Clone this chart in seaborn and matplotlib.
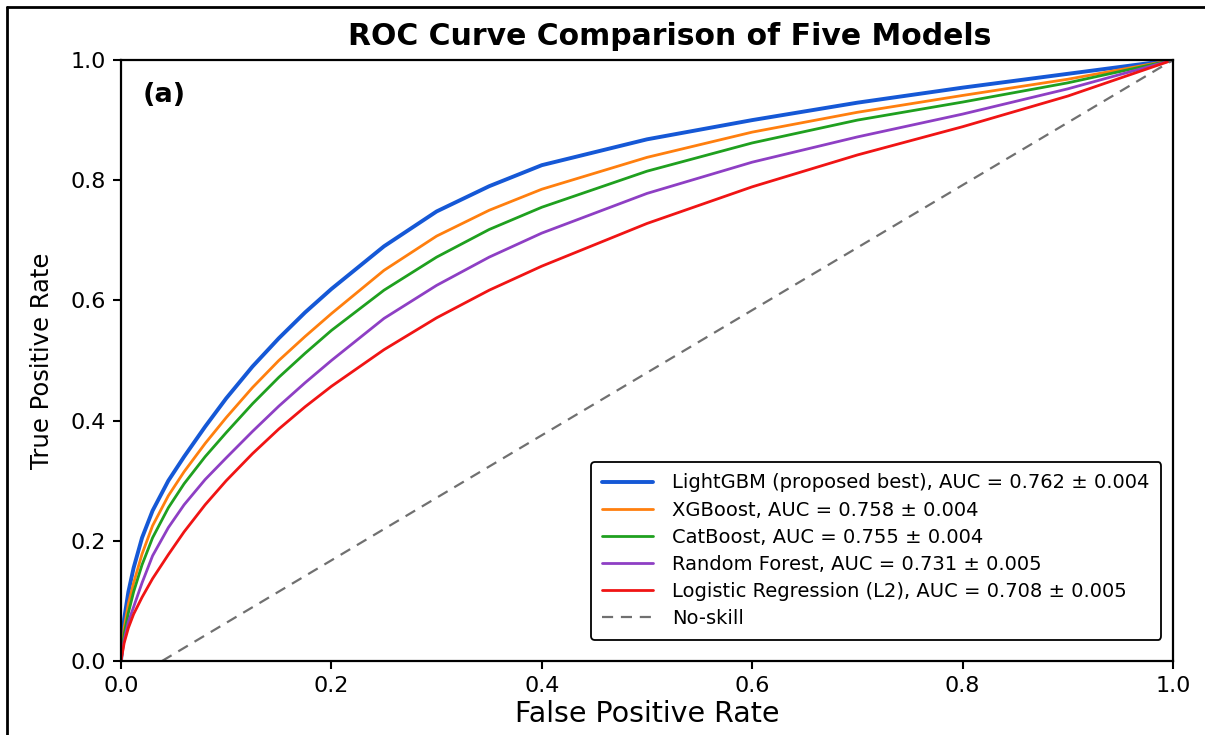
import numpy as np
import pandas as pd
import matplotlib
matplotlib.use("Agg")
import matplotlib.pyplot as plt
from matplotlib.lines import Line2D
import seaborn as sns

# ROC points
fpr = [0.0, 0.003, 0.007, 0.012, 0.02, 0.03, 0.045, 0.06, 0.08, 0.1, 0.125, 0.15,
       0.175, 0.2, 0.25, 0.3, 0.35, 0.4, 0.5, 0.6, 0.7, 0.8, 0.9, 1.0]
tpr_lgbm = [0.0, 0.07, 0.115, 0.155, 0.205, 0.25, 0.30, 0.34, 0.39, 0.437, 0.49, 0.537,
            0.58, 0.619, 0.69, 0.748, 0.79, 0.825, 0.868, 0.9, 0.929, 0.954, 0.977, 1.0]
tpr_xgb = [0.0, 0.055, 0.095, 0.13, 0.178, 0.225, 0.275, 0.315, 0.362, 0.405, 0.455, 0.5,
           0.54, 0.578, 0.65, 0.707, 0.75, 0.785, 0.838, 0.88, 0.913, 0.941, 0.968, 1.0]
tpr_cat = [0.0, 0.045, 0.08, 0.115, 0.16, 0.205, 0.255, 0.295, 0.34, 0.38, 0.428, 0.472,
           0.512, 0.55, 0.617, 0.672, 0.718, 0.755, 0.815, 0.862, 0.9, 0.93, 0.962, 1.0]
tpr_rf = [0.0, 0.035, 0.065, 0.09, 0.13, 0.175, 0.222, 0.26, 0.302, 0.338, 0.382, 0.424,
          0.463, 0.5, 0.57, 0.625, 0.672, 0.712, 0.778, 0.83, 0.872, 0.91, 0.952, 1.0]
tpr_lr = [0.0, 0.03, 0.055, 0.078, 0.106, 0.137, 0.177, 0.215, 0.26, 0.3, 0.345, 0.386,
          0.423, 0.457, 0.518, 0.571, 0.617, 0.657, 0.728, 0.789, 0.842, 0.889, 0.94, 1.0]
noskill_x = [0.039, 1.0]
noskill_y = [0.0, 1.0]

labels = ["LightGBM (proposed best), AUC = 0.762 \u00b1 0.004",
          "XGBoost, AUC = 0.758 \u00b1 0.004",
          "CatBoost, AUC = 0.755 \u00b1 0.004",
          "Random Forest, AUC = 0.731 \u00b1 0.005",
          "Logistic Regression (L2), AUC = 0.708 \u00b1 0.005"]
colors = ["#1558d6", "#ff7f0e", "#1fa01f", "#8e3fc4", "#f01414"]
widths = [2.8, 2.0, 2.0, 2.0, 2.0]
curves = [tpr_lgbm, tpr_xgb, tpr_cat, tpr_rf, tpr_lr]

sns.set_style("ticks")
plt.rcParams['font.family'] = ['DejaVu Sans']
plt.rcParams['text.color'] = 'black'
plt.rcParams['axes.labelcolor'] = 'black'
plt.rcParams['xtick.color'] = 'black'
plt.rcParams['ytick.color'] = 'black'

fig = plt.figure(figsize=(12.05, 7.35), dpi=100)
ax = fig.add_axes([121 / 1205, 1 - 661 / 735, 1052 / 1205, 601 / 735])

for tpr, lab, col, lw in zip(curves, labels, colors, widths):
    sns.lineplot(x=fpr, y=tpr, color=col, linewidth=lw, label=lab, ax=ax)

sns.lineplot(x=noskill_x, y=noskill_y, color="#707070", linewidth=1.6,
             linestyle=(0, (5, 3.5)), label="No-skill", ax=ax)

ax.set_xlim(0, 1)
ax.set_ylim(0, 1)
ticks = [0.0, 0.2, 0.4, 0.6, 0.8, 1.0]
ax.set_xticks(ticks)
ax.set_yticks(ticks)
ax.set_xticklabels([f"{t:.1f}" for t in ticks])
ax.set_yticklabels([f"{t:.1f}" for t in ticks])
ax.tick_params(labelsize=16, length=6, width=1.5, pad=5)
for sp in ax.spines.values():
    sp.set_linewidth(1.6)
    sp.set_color("black")
    sp.set_visible(True)

ax.set_title("ROC Curve Comparison of Five Models", fontsize=21.5, fontweight="bold",
             x=0.522, pad=11)
ax.set_xlabel("False Positive Rate", fontsize=20.5, labelpad=3)
ax.set_ylabel("True Positive Rate", fontsize=17.5, labelpad=12)
ax.text(0.021, 0.942, "(a)", transform=ax.transAxes, fontsize=19.5,
        fontweight="bold", ha="left", va="center")

leg = ax.legend(loc="lower right", bbox_to_anchor=(0.989, 0.035), borderaxespad=0,
                fontsize=14, labelspacing=0.42, handlelength=2.6,
                handletextpad=1.0, borderpad=0.6, frameon=True, fancybox=True,
                framealpha=1)
leg.get_frame().set_edgecolor("black")
leg.get_frame().set_linewidth(1.3)

# outer frame of the picture (visible on left and top)
fig.add_artist(Line2D([7 / 1205, 7 / 1205], [0, 1 - 7 / 735], transform=fig.transFigure,
                      color="black", linewidth=2))
fig.add_artist(Line2D([7 / 1205, 1], [1 - 7 / 735, 1 - 7 / 735], transform=fig.transFigure,
                      color="black", linewidth=2))

fig.savefig("out.png", dpi=100, facecolor="white")
